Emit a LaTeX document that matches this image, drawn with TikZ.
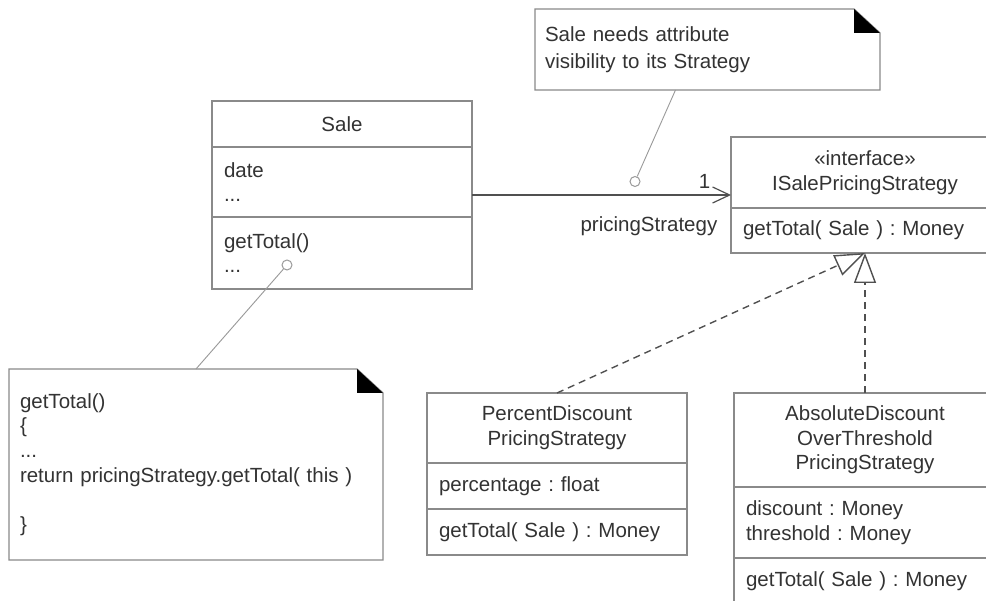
\documentclass[tikz,border=0pt]{standalone}
\usepackage{fontspec}
\setmainfont{Liberation Sans}
\usetikzlibrary{positioning,arrows.meta}
\definecolor{ink}{HTML}{333333}
\definecolor{rule}{HTML}{8A8A8A}
\definecolor{wire}{HTML}{505050}
\definecolor{faint}{HTML}{9A9A9A}
\frenchspacing
% note outline with the black folded corner
\newcommand{\noteoutline}[1]{%
  \draw[notedraw] (#1.north west) -- ([xshift=-26pt]#1.north east) -- ([yshift=-24pt]#1.north east)
    -- (#1.south east) -- (#1.south west) -- cycle;
  \fill[black] ([xshift=-26pt]#1.north east) -- ([xshift=-26pt,yshift=-24pt]#1.north east)
    -- ([yshift=-24pt]#1.north east) -- cycle;}

\begin{document}
\begin{tikzpicture}[x=1pt, y=1pt,
  font=\fontsize{20.5}{24.6}\selectfont,
  hdr/.style={draw=rule, line width=1.3pt, anchor=north west, align=center, minimum width=260pt, text width=236pt, inner xsep=12pt, inner ysep=0pt, outer sep=0pt, text=ink},
  cmp/.style={hdr, align=left},
  note/.style={anchor=north west, align=left, inner ysep=0pt, outer sep=0pt, text=ink},
  notedraw/.style={draw=rule, line width=1.3pt},
  assoc/.style={-{Straight Barb[length=17pt, width=16pt, line width=1.2pt]}, line width=1.4pt, color=wire},
  realize/.style={-{Triangle[length=30pt, width=22pt, fill=white]}, dash pattern=on 7pt off 5pt, line width=1.4pt, color=wire},
  notelink/.style={line width=0.9pt, color=faint},
  dot/.style={circle, draw=faint, fill=white, line width=1pt, minimum size=10pt, inner sep=0pt},
  lbl/.style={inner sep=0pt, text=ink}
]
\useasboundingbox (0,0) rectangle (986,-601);
\clip (0,0) rectangle (986,-601);
\fill[white] (0,0) rectangle (986,-601);

% classes
\node[hdr, minimum height=46pt] (sale) at (212,-101) {Sale};
\node[cmp, below=0pt of sale, minimum height=70pt] (saleattr) {date\\...};
\node[cmp, below=0pt of saleattr, minimum height=72pt] (saleops) {getTotal()\\...};

\node[hdr, minimum width=268pt, text width=244pt, minimum height=71pt] (iface) at (731,-137) {«interface»\\ISalePricingStrategy};
\node[cmp, minimum width=268pt, text width=244pt, below=0pt of iface, minimum height=45pt] (ifaceops) {getTotal( Sale ) : Money};

\node[hdr, minimum height=70pt] (pct) at (427,-393) {PercentDiscount\\PricingStrategy};
\node[cmp, below=0pt of pct, minimum height=46pt] (pctattr) {percentage : float};
\node[cmp, below=0pt of pctattr, minimum height=46pt] (pctops) {getTotal( Sale ) : Money};

\node[hdr, minimum width=262pt, text width=238pt, minimum height=94pt] (abs) at (734,-393) {AbsoluteDiscount\\OverThreshold\\PricingStrategy};
\node[cmp, minimum width=262pt, text width=238pt, below=0pt of abs, minimum height=71pt] (absattr) {discount : Money\\threshold : Money};
\node[cmp, minimum width=262pt, text width=238pt, below=0pt of absattr, minimum height=46pt] (absops) {getTotal( Sale ) : Money};

% notes
\node[note, minimum width=345pt, text width=325pt, inner xsep=10pt, minimum height=81pt] (visnote) at (535,-9) {Sale needs attribute\\[2pt]visibility to its Strategy};
\noteoutline{visnote}
\node[note, minimum width=374pt, text width=352pt, inner xsep=11pt, minimum height=191pt] (codenote) at (9,-369) {getTotal()\\\{\\...\\return pricingStrategy.getTotal( this )\\\mbox{}\\\}};
\noteoutline{codenote}

% association
\path (iface.north west) -- (ifaceops.south west) coordinate[midway] (ifacew);
\draw[assoc] (saleattr.east |- ifacew) -- (ifacew)
  node[lbl, pos=1, anchor=south east, xshift=-20pt, yshift=6pt] (mult) {1}
  node[lbl, pos=1, anchor=north east, xshift=-13pt, yshift=-21pt] (role) {pricingStrategy};

% realizations
\draw[realize] (pct.north) -- (ifaceops.south);
\draw[realize] (abs.north) -- (ifaceops.south);

% note anchors
\node[dot] (visdot) at (635,-181.5) {};
\node[dot] (codedot) at (287,-265) {};
\coordinate (vistail) at ([xshift=-32pt]visnote.south);
\draw[notelink] (visdot) -- (vistail);
\draw[notelink] (codedot) -- (codenote.north);
\end{tikzpicture}
\end{document}
